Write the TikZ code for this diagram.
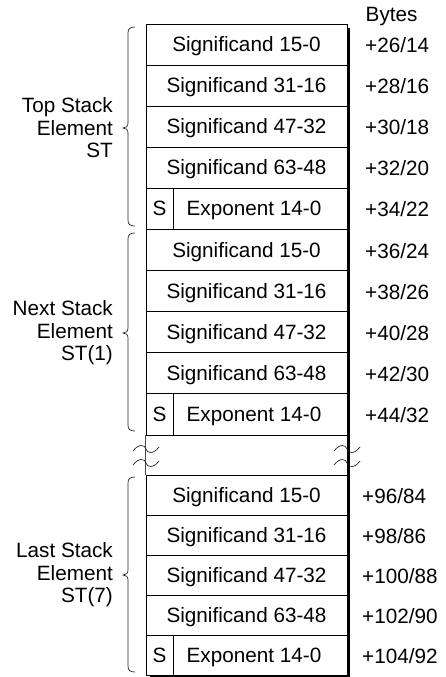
\documentclass[tikz,border=0pt]{standalone}
\usepackage{fontspec}
\setmainfont{Liberation Sans}
\newcommand\dfs{\fontsize{20.7}{22.5}\selectfont}
\newcommand\bracepath[3]{%
  \draw[bracestyle] (135,#1) .. controls (130,#1) and (128,#1+1.5) .. (128,#1+6)
    -- (128,#2-5) .. controls (128,#2-1.5) and (126,#2) .. (123,#2)
    .. controls (126,#2) and (128,#2+1.5) .. (128,#2+5)
    -- (128,#3-6) .. controls (128,#3-1.5) and (130,#3) .. (135,#3);}
\newcommand\wavepath[2]{%
  \draw[wavestyle] (#1,#2+2) .. controls (#1+6,#2-6) and (#1+12,#2-4) .. (#1+13,#2)
    .. controls (#1+14,#2+4) and (#1+20,#2+6) .. (#1+26,#2-2);}
% #1 prefix, #2 top, #3 row height, #4 byte x, #5-#9 byte labels
\newcommand\stackelem[9]{%
  \foreach \i/\t in {1/15-0,2/31-16,3/47-32,4/63-48}{
    \node[cell, minimum width=201pt, minimum height=#3pt] (#1r\i) at (246.5,{#2+(\i-0.5)*#3}) {Significand \t};
  }
  \node[cell, minimum width=27pt, minimum height=#3pt] (#1s) at (159.5,{#2+4.5*#3}) {S};
  \node[cell, minimum width=174pt, minimum height=#3pt] (#1e) at (260,{#2+4.5*#3}) {Exponent 14-0\hspace*{12pt}};
  \node[txt, anchor=west] (#1b1) at (#4,{#2+0.5*#3+1}) {#5};
  \node[txt, anchor=west] (#1b2) at (#4,{#2+1.5*#3+1}) {#6};
  \node[txt, anchor=west] (#1b3) at (#4,{#2+2.5*#3+1}) {#7};
  \node[txt, anchor=west] (#1b4) at (#4,{#2+3.5*#3+1}) {#8};
  \node[txt, anchor=west] (#1b5) at (#4,{#2+4.5*#3+1}) {#9};
}
\tikzset{
  cell/.style={draw=black, line width=0.8pt, inner sep=0pt, font=\dfs, text height=14.8pt, text depth=0pt},
  txt/.style={inner sep=0pt, font=\dfs, text height=14.8pt, text depth=0pt},
  sidelbl/.style={inner sep=0pt, font=\dfs, align=right, anchor=east},
  bracestyle/.style={draw=black!85, line width=0.7pt},
  wavestyle/.style={draw=black!85, line width=0.7pt},
  shadowline/.style={draw=black, line width=3pt},
  edgeline/.style={draw=black!70, line width=0.8pt}
}
\begin{document}
\begin{tikzpicture}[x=1pt,y=-1pt]
\useasboundingbox (0,0) rectangle (445,677);
\node[txt, anchor=west] (bytes) at (365.5,14) {Bytes};
\stackelem{a}{24}{41}{365}{+26/14}{+28/16}{+30/18}{+32/20}{+34/22}
\stackelem{b}{229}{41.2}{365}{+36/24}{+38/26}{+40/28}{+42/30}{+44/32}
\stackelem{c}{475}{40}{362}{+96/84}{+98/86}{+100/88}{+102/90}{+104/92}
% break region edge between the second and last elements
\draw[edgeline] (bs.south west) -- (cr1.north west);
% shadow
\draw[shadowline] (348.5,28) -- (348.5,677);
\draw[draw=black, line width=2pt] (150,676.5) -- (350,676.5);
% waves
\wavepath{133}{449}
\wavepath{133}{463}
\wavepath{334}{449}
\wavepath{334}{463}
% braces
\bracepath{27}{128}{226}
\bracepath{233}{333}{431}
\bracepath{477}{575}{672}
\node[sidelbl] (lblA) at (113,128) {Top Stack\\Element\\ST};
\node[sidelbl] (lblB) at (113,333) {Next Stack\\Element\\ST(1)};
\node[sidelbl] (lblC) at (113,575) {Last Stack\\Element\\ST(7)};
\end{tikzpicture}
\end{document}
